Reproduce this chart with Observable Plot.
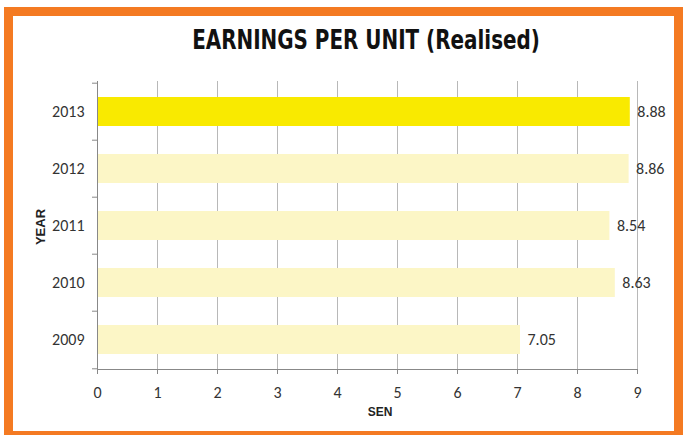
<!DOCTYPE html>
<html>
<head>
<meta charset="utf-8">
<script src="https://cdn.jsdelivr.net/npm/d3@7"></script>
<script src="https://cdn.jsdelivr.net/npm/@observablehq/plot@0.6"></script>
<style>
  html, body { margin: 0; padding: 0; background: #fff; }
  body { width: 683px; height: 435px; position: relative; overflow: hidden; }
  #frame { position: absolute; left: 4px; top: 7px; width: 679px; height: 433px;
           border: 9px solid #f47a22; box-sizing: border-box; }
  #title { position: absolute; left: 366px; top: 39px; transform: translate(-50%, -50%) scaleX(0.82);
           font-family: "Liberation Sans Narrow", "DejaVu Sans Condensed", "Arial Narrow", sans-serif;
           font-weight: bold; font-size: 27px; color: #111; white-space: nowrap; line-height: 1; }
  #chart { position: absolute; left: 0; top: 60px; }
  .axlab { position: absolute; font-family: "Liberation Sans", Arial, sans-serif; font-weight: bold;
           color: #222; white-space: nowrap; }
  #ylab { left: 40px; top: 227px; font-size: 13px; transform: translate(-50%, -50%) rotate(-90deg); }
  #xlab { left: 380px; top: 412px; font-size: 12px; transform: translate(-50%, -50%); }
</style>
</head>
<body>
<div id="frame"></div>
<div id="title">EARNINGS PER UNIT (Realised)</div>
<div id="chart"></div>
<div class="axlab" id="ylab">YEAR</div>
<div class="axlab" id="xlab">SEN</div>
<script>
const years = ["2013", "2012", "2011", "2010", "2009"];
const values = [8.88, 8.86, 8.54, 8.63, 7.05];
const highlight = "2013";
const xTicks = [0, 1, 2, 3, 4, 5, 6, 7, 8, 9];

const data = years.map((y, i) => ({year: y, value: values[i]}));
const bodyFont = "Carlito, Lato, 'Open Sans', sans-serif";

const chart = Plot.plot({
  width: 683,
  height: 365,
  marginLeft: 97,
  marginRight: 46,
  marginTop: 21,
  marginBottom: 56,
  style: {fontFamily: bodyFont, background: "transparent", overflow: "visible"},
  x: {domain: [0, 9], ticks: xTicks},
  y: {domain: years, paddingInner: 0.5, paddingOuter: 0.25},
  marks: [
    Plot.gridX(xTicks, {stroke: "#b8b8b8", strokeOpacity: 1}),
    Plot.barX(data, {
      x: "value", y: "year",
      fill: d => d.year === highlight ? "#f9ea00" : "#fcf6c6",
      style: {filter: "drop-shadow(1px 2px 1px rgba(0,0,0,0.18))"}
    }),
    Plot.text(data, {
      x: "value", y: "year", text: d => d.value.toFixed(2),
      dx: 7, textAnchor: "start", fontSize: 16, fill: "#333"
    }),
    Plot.ruleX([0], {stroke: "#888"}),
    Plot.frame({anchor: "bottom", stroke: "#888"}),
    Plot.ruleY(years, {y: d => d, x1: 0, x2: 0, insetLeft: -5, dy: -28.8, stroke: "#888"}),
    Plot.ruleY([years[years.length - 1]], {y: d => d, x1: 0, x2: 0, insetLeft: -5, dy: 28.8, stroke: "#888"}),
    Plot.axisX({ticks: xTicks, tickSize: 5, tickPadding: 12, fontSize: 16, color: "#333", stroke: "#888", label: null}),
    Plot.axisY({tickSize: 0, tickPadding: 13, fontSize: 16, color: "#333", label: null})
  ]
});
document.getElementById("chart").appendChild(chart);
</script>
</body>
</html>
